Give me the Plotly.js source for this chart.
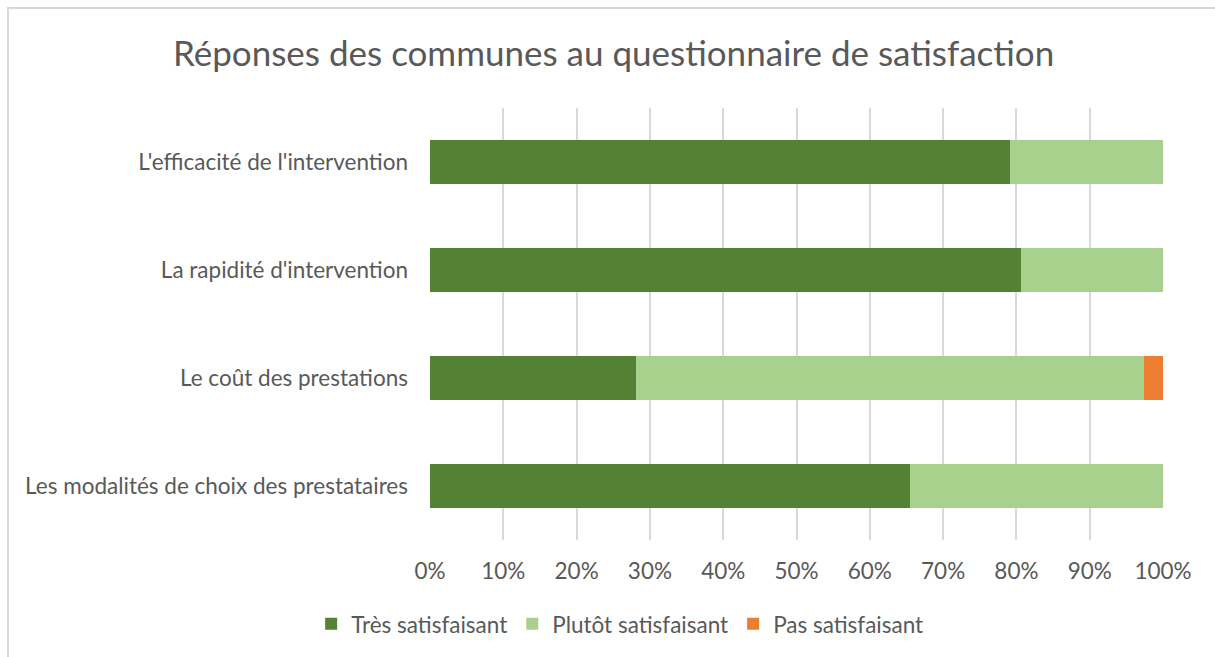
<!DOCTYPE html>
<html>
<head>
<meta charset="utf-8">
<script src="https://cdn.plot.ly/plotly-3.0.1.min.js"></script>
<style>
html,body{margin:0;padding:0;background:#fff;}
#chart{width:1215px;height:657px;}
</style>
</head>
<body>
<div id="chart"></div>
<script>
const categories = [
  "L'efficacité de l'intervention",
  "La rapidité d'intervention",
  "Le coût des prestations",
  "Les modalités de choix des prestataires"
];
const seriesNames = ["Très satisfaisant", "Plutôt satisfaisant", "Pas satisfaisant"];
const tresSatisfaisant = [0.791, 0.806, 0.281, 0.655];
const plutotSatisfaisant = [0.209, 0.194, 0.693, 0.345];
const pasSatisfaisant = [0, 0, 0.026, 0];
const colors = ["#548235", "#A9D18E", "#ED7D31"];
const xTickVals = [0,0.1,0.2,0.3,0.4,0.5,0.6,0.7,0.8,0.9,1];
const xTickText = ["0%","10%","20%","30%","40%","50%","60%","70%","80%","90%","100%"];

const values = [tresSatisfaisant, plutotSatisfaisant, pasSatisfaisant];
const traces = values.map((v, i) => ({
  type: 'bar',
  orientation: 'h',
  name: seriesNames[i],
  y: categories,
  x: v,
  marker: {color: colors[i]},
  width: 0.4,
  hoverinfo: 'x+name'
}));

const font = "Lato, 'Open Sans', sans-serif";
const fs = 22.5;
const layout = {
  width: 1215,
  height: 657,
  barmode: 'stack',
  paper_bgcolor: '#fff',
  plot_bgcolor: '#fff',
  margin: {l: 430, r: 52, t: 108, b: 117},
  font: {family: font, color: '#595959', size: fs},
  title: {
    text: 'Réponses des communes au questionnaire de satisfaction',
    font: {family: font, size: 35, color: '#595959'},
    x: 0.505, xref: 'container', xanchor: 'center',
    y: 0.918, yref: 'container', yanchor: 'middle'
  },
  xaxis: {
    range: [0, 1],
    tickvals: xTickVals,
    ticktext: xTickText,
    showgrid: true,
    gridcolor: '#D9D9D9',
    gridwidth: 2,
    zeroline: false,
    showline: false,
    ticks: '',
    ticklabelstandoff: 15,
    tickfont: {size: fs, color: '#595959'},
    fixedrange: true
  },
  yaxis: {
    autorange: 'reversed',
    showgrid: false,
    zeroline: false,
    showline: false,
    ticks: '',
    ticklabelstandoff: 21,
    tickfont: {size: fs, color: '#595959'},
    fixedrange: true
  },
  legend: {
    orientation: 'h',
    x: 0.51, xref: 'container', xanchor: 'center',
    y: 0.05, yref: 'container', yanchor: 'middle',
    font: {size: fs, color: '#595959'},
    traceorder: 'normal',
    itemwidth: 30
  },
  shapes: [{
    type: 'rect', xref: 'paper', yref: 'paper',
    x0: (8 - 430) / 733, x1: (1230 - 430) / 733,
    y0: (540 - 680) / 432, y1: 1 + 100 / 432,
    line: {color: '#D9D9D9', width: 2},
    fillcolor: 'rgba(0,0,0,0)', layer: 'below'
  }],
  showlegend: true
};

Plotly.newPlot('chart', traces, layout, {displayModeBar: false, staticPlot: true});
</script>
</body>
</html>
